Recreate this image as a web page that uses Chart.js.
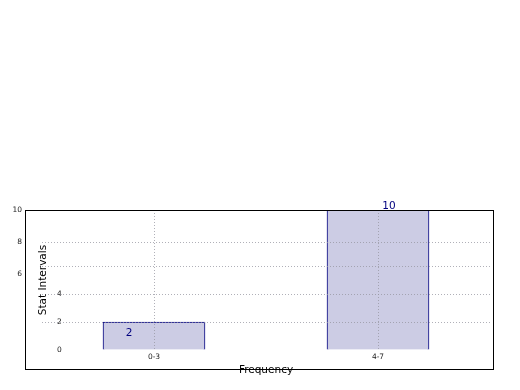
<!DOCTYPE html>
<html>
<head>
<meta charset="utf-8">
<script src="https://cdn.jsdelivr.net/npm/chart.js@4.4.0/dist/chart.umd.min.js"></script>
<style>
  html, body { margin: 0; padding: 0; background: #fff; }
</style>
</head>
<body>
<canvas id="myChart" width="520" height="390"></canvas>
<script>
// data
const categories = ['0-3', '4-7'];
const counts = [2, 10];
const innerTicks = [0, 2, 4, 6];
const innerTickLabels = ['0', '2', '4', ''];
const outerTicks = [6, 8, 10];
const outerTickLabels = ['6', '8', '10'];
const outerGridAt = [8];

const gridGray = 'rgba(150,150,160,0.75)';
const labelOffsets = [[-25, 11], [11, -4]];

const valueLabels = {
  id: 'valueLabels',
  afterDatasetsDraw(chart) {
    const ctx = chart.ctx;
    const meta = chart.getDatasetMeta(0);
    ctx.save();
    ctx.fillStyle = '#00007f';
    ctx.font = '10.5px "DejaVu Sans"';
    ctx.textAlign = 'center';
    ctx.textBaseline = 'middle';
    meta.data.forEach((bar, i) => {
      ctx.fillText(String(counts[i]), bar.x + labelOffsets[i][0], bar.y + labelOffsets[i][1]);
    });
    ctx.restore();
  }
};

const frame = {
  id: 'frame',
  afterDraw(chart) {
    const ctx = chart.ctx;
    ctx.save();
    ctx.strokeStyle = '#000';
    ctx.lineWidth = 1;
    ctx.strokeRect(25.5, 210.5, 468, 159);
    ctx.restore();
  }
};

const ctx = document.getElementById('myChart').getContext('2d');
const myChart = new Chart(ctx, {
  type: 'bar',
  data: {
    labels: categories,
    datasets: [{
      data: counts,
      backgroundColor: 'rgb(204,204,228)',
      borderColor: '#000080',
      borderWidth: 1,
      borderSkipped: 'bottom',
      barThickness: 102,
      yAxisID: 'y'
    }]
  },
  options: {
    responsive: false,
    animation: false,
    layout: { padding: { top: 210, right: 30, left: 0, bottom: 0 } },
    plugins: { legend: { display: false }, tooltip: { enabled: false } },
    scales: {
      x: {
        grid: { z: 1, color: gridGray, offset: false, drawTicks: false },
        border: { display: false, dash: [1, 2] },
        ticks: { font: { family: 'DejaVu Sans', size: 7.5 }, color: '#222', padding: 3 },
        title: { display: true, text: 'Frequency', color: '#000',
                 font: { family: 'DejaVu Sans', size: 10.5 }, padding: { top: 0, bottom: 13 } },
        afterFit(scale) { scale.height = 40; }
      },
      y: {
        position: 'left',
        weight: 0,
        min: 0,
        max: 10,
        afterBuildTicks(scale) { scale.ticks = innerTicks.map(v => ({ value: v })); },
        grid: { z: 1, color: c => (c.tick && c.tick.value === 0) ? 'transparent' : gridGray, drawTicks: false },
        border: { display: false, dash: [1, 2] },
        ticks: {
          mirror: true,
          padding: 15,
          font: { family: 'DejaVu Sans', size: 7.5 },
          color: '#222',
          callback: (v, i) => innerTickLabels[i]
        },
        afterFit(scale) { scale.width = 0; }
      },
      yOuter: {
        position: 'left',
        weight: 1,
        min: 1.25,
        max: 10,
        afterBuildTicks(scale) { scale.ticks = outerTicks.map(v => ({ value: v })); },
        grid: { z: 1, color: c => (c.tick && outerGridAt.includes(c.tick.value)) ? gridGray : 'transparent', drawTicks: false },
        border: { display: false, dash: [1, 2] },
        ticks: {
          padding: 20,
          font: { family: 'DejaVu Sans', size: 7.5 },
          color: '#222',
          callback: (v, i) => outerTickLabels[i]
        },
        title: { display: true, text: 'Stat Intervals', color: '#000',
                 font: { family: 'DejaVu Sans', size: 10.5 }, padding: { top: 37, bottom: 0 } },
        afterFit(scale) { scale.width = 42; }
      }
    }
  },
  plugins: [valueLabels, frame]
});
</script>
</body>
</html>
